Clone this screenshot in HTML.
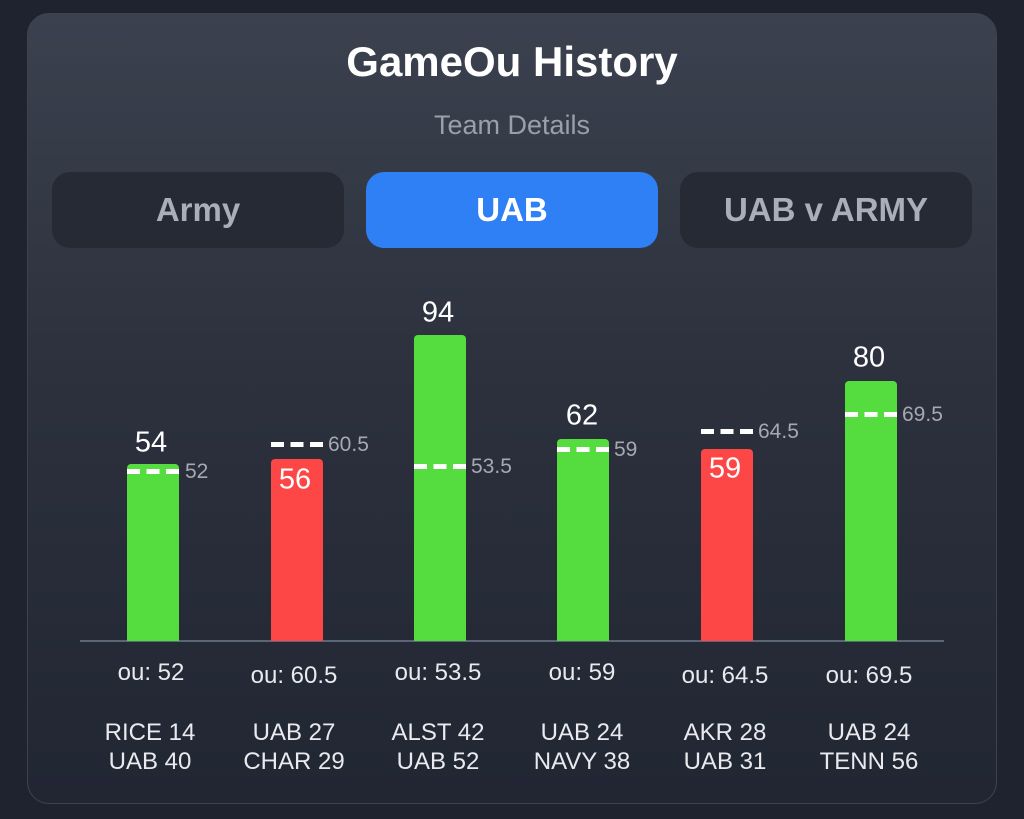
<!DOCTYPE html>
<html><head><style>
body{margin:0;width:1024px;height:819px;background:#1f2330;font-family:"Liberation Sans",sans-serif;overflow:hidden;position:relative}
.card{position:absolute;left:27px;top:13px;width:970px;height:791px;border-radius:22px;background:linear-gradient(#3b414e,#2c313d 45%,#212633);border:1px solid #3d4350;box-sizing:border-box}
.t{position:absolute;left:0;width:1024px;text-align:center}
.btn{position:absolute;top:172px;height:76px;width:292px;border-radius:18px;background:#252a35;color:#a9aeb8;font-size:33px;font-weight:bold;text-align:center;line-height:76px}
.bar{position:absolute;width:52px;border-radius:4px 4px 0 0}
.g{background:#55dd3f}.r{background:#fd4646}
.v{position:absolute;width:100px;text-align:center;color:#fff;font-size:29px;transform:translate(-50%,-50%)}
.d{position:absolute;height:5px;width:52px;background:repeating-linear-gradient(90deg,#fff 0 13px,transparent 13px 19.5px)}
.dl{position:absolute;color:#a4a9b3;font-size:21px;transform:translateY(-50%)}
.ou,.tm{position:absolute;width:150px;text-align:center;color:#e8eaee;font-size:24px;transform:translate(-50%,-50%)}
.tm{line-height:29px}
</style></head><body>
<div class="card"></div>
<div class="t" style="top:38px;font-size:42px;font-weight:bold;color:#fff">GameOu History</div>
<div class="t" style="top:110px;font-size:27px;color:#9aa0ab">Team Details</div>
<div class="btn" style="left:52px">Army</div>
<div class="btn" style="left:366px;background:#2f7ff5;color:#fff">UAB</div>
<div class="btn" style="left:680px">UAB v ARMY</div>
<div style="position:absolute;left:80px;top:640px;width:864px;height:2px;background:#5d6475"></div>

<div class="bar g" style="left:127px;top:464px;height:177px"></div>
<div class="bar r" style="left:271px;top:459px;height:182px"></div>
<div class="bar g" style="left:414px;top:335px;height:306px"></div>
<div class="bar g" style="left:557px;top:439px;height:202px"></div>
<div class="bar r" style="left:701px;top:449px;height:192px"></div>
<div class="bar g" style="left:845px;top:381px;height:260px"></div>

<div class="v" style="left:151px;top:443px">54</div>
<div class="v" style="left:295px;top:480px">56</div>
<div class="v" style="left:438px;top:313px">94</div>
<div class="v" style="left:582px;top:416px">62</div>
<div class="v" style="left:725px;top:469px">59</div>
<div class="v" style="left:869px;top:358px">80</div>

<div class="d" style="left:127px;top:469px"></div><div class="dl" style="left:185px;top:472px">52</div>
<div class="d" style="left:271px;top:442px"></div><div class="dl" style="left:328px;top:445px">60.5</div>
<div class="d" style="left:414px;top:464px"></div><div class="dl" style="left:471px;top:467px">53.5</div>
<div class="d" style="left:557px;top:447px"></div><div class="dl" style="left:614px;top:450px">59</div>
<div class="d" style="left:701px;top:429px"></div><div class="dl" style="left:758px;top:432px">64.5</div>
<div class="d" style="left:845px;top:412px"></div><div class="dl" style="left:902px;top:415px">69.5</div>

<div class="ou" style="left:151px;top:673px">ou: 52</div>
<div class="ou" style="left:294px;top:676px">ou: 60.5</div>
<div class="ou" style="left:438px;top:673px">ou: 53.5</div>
<div class="ou" style="left:582px;top:673px">ou: 59</div>
<div class="ou" style="left:725px;top:676px">ou: 64.5</div>
<div class="ou" style="left:869px;top:676px">ou: 69.5</div>

<div class="tm" style="left:150px;top:747px">RICE 14<br>UAB 40</div>
<div class="tm" style="left:294px;top:747px">UAB 27<br>CHAR 29</div>
<div class="tm" style="left:438px;top:747px">ALST 42<br>UAB 52</div>
<div class="tm" style="left:582px;top:747px">UAB 24<br>NAVY 38</div>
<div class="tm" style="left:725px;top:747px">AKR 28<br>UAB 31</div>
<div class="tm" style="left:869px;top:747px">UAB 24<br>TENN 56</div>
</body></html>
